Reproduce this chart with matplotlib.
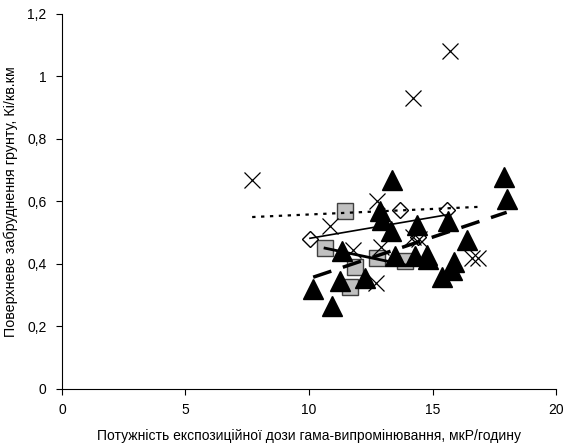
import numpy as np
import matplotlib
matplotlib.use("Agg")
import matplotlib.pyplot as plt

plt.rcParams['font.family'] = ['Liberation Sans', 'DejaVu Sans']

# Data
cross_x = [7.7, 10.85, 11.8, 12.75, 12.9, 12.7, 14.2, 14.45, 14.2, 15.7, 16.6, 16.85]
cross_y = [0.67, 0.52, 0.445, 0.60, 0.455, 0.34, 0.485, 0.48, 0.93, 1.08, 0.42, 0.42]

diam_x = [10.04, 13.7, 15.6, 14.4]
diam_y = [0.48, 0.574, 0.574, 0.485]

sq_x = [11.46, 10.65, 11.86, 11.66, 12.75, 13.9]
sq_y = [0.57, 0.45, 0.39, 0.325, 0.42, 0.41]

tri_x = [10.17, 10.92, 11.25, 11.35, 12.27, 12.87, 12.97, 13.3, 13.35, 13.48,
         14.29, 14.36, 14.76, 14.8, 15.37, 15.64, 15.78, 15.85, 16.38, 17.9, 18.0]
tri_y = [0.32, 0.265, 0.345, 0.44, 0.355, 0.57, 0.54, 0.505, 0.67, 0.425,
         0.425, 0.525, 0.43, 0.415, 0.358, 0.536, 0.38, 0.405, 0.478, 0.678, 0.608]

x_ticks = [0, 5, 10, 15, 20]
y_ticks = [0, 0.2, 0.4, 0.6, 0.8, 1.0, 1.2]
y_tick_labels = ['0', '0,2', '0,4', '0,6', '0,8', '1', '1,2']

fig = plt.figure(figsize=(5.68, 4.47), dpi=100)
ax = fig.add_axes([0.109, 0.1298, 0.870, 0.8389])

ax.plot(sq_x, sq_y, linestyle='none', marker='s', markersize=12,
        markerfacecolor='#c0c0c0', markeredgecolor='#404040', markeredgewidth=1.0, zorder=2)
ax.plot(diam_x, diam_y, linestyle='none', marker='D', markersize=8.5,
        markerfacecolor='white', markeredgecolor='black', markeredgewidth=1.0, zorder=2)
ax.plot(tri_x, tri_y, linestyle='none', marker='^', markersize=14,
        markerfacecolor='black', markeredgecolor='black', zorder=3)
ax.plot(cross_x, cross_y, linestyle='none', marker='x', markersize=12,
        color='black', markeredgewidth=0.9, zorder=4)


def trend(xs, ys, **kw):
    xs = np.asarray(xs)
    ys = np.asarray(ys)
    k, b = np.polyfit(xs, ys, 1)
    xx = np.array([xs.min(), xs.max()])
    ax.plot(xx, k * xx + b, color='black', zorder=5, **kw)


trend(cross_x, cross_y, linewidth=1.6, linestyle=(0, (1.5, 2.5)))
trend(diam_x, diam_y, linewidth=1.2, linestyle='-')
trend(sq_x, sq_y, linewidth=2.0, linestyle='-')
trend(tri_x, tri_y, linewidth=2.5, linestyle=(0, (5.5, 3.5)))

ax.set_xlim(0, 20)
ax.set_ylim(0, 1.2)
ax.set_xticks(x_ticks)
ax.set_xticklabels([str(t) for t in x_ticks])
ax.set_yticks(y_ticks)
ax.set_yticklabels(y_tick_labels)
ax.tick_params(axis='both', labelsize=10, direction='out', length=4, width=0.8, pad=6)
ax.tick_params(axis='y', pad=7)
for side in ['top', 'right']:
    ax.spines[side].set_visible(False)
for side in ['left', 'bottom']:
    ax.spines[side].set_linewidth(0.8)

ax.set_xlabel('Потужність експозиційної дози гама-випромінювання, мкР/годину', fontsize=10, labelpad=9)
ax.set_ylabel('Поверхневе забруднення грунту, Кі/кв.км', fontsize=10.3, labelpad=7)

fig.savefig('out.png', dpi=100)
